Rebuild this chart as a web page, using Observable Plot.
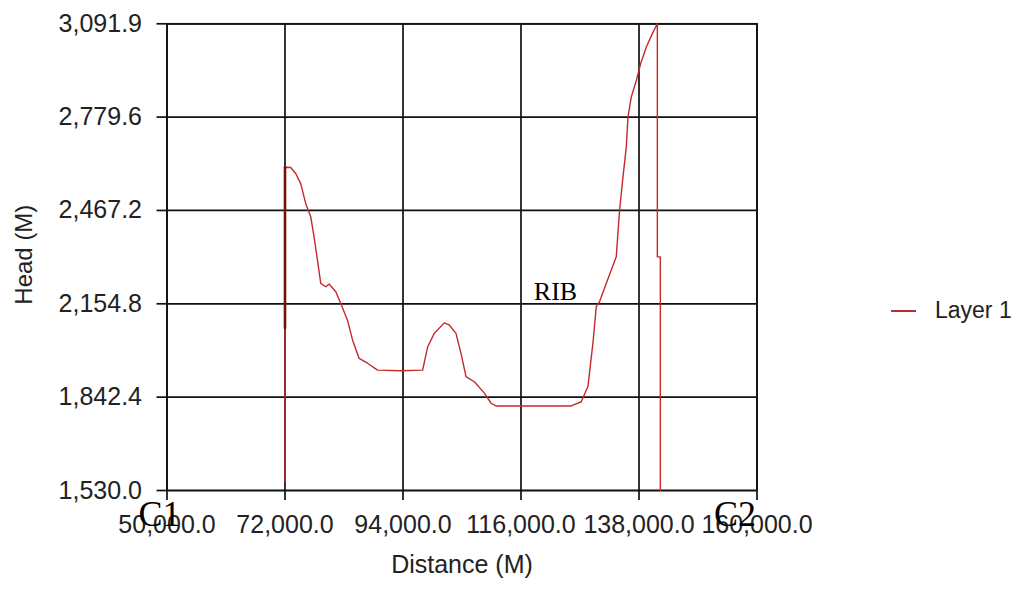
<!DOCTYPE html>
<html>
<head>
<meta charset="utf-8">
<script src="https://cdn.jsdelivr.net/npm/d3@7"></script>
<script src="https://cdn.jsdelivr.net/npm/@observablehq/plot@0.6"></script>
<style>
  html, body { margin: 0; padding: 0; background: #fff; }
  #wrap { position: relative; width: 1018px; height: 590px; overflow: hidden; }
  #legend { position: absolute; left: 891px; top: 297px; font-family: "Liberation Sans", Arial, sans-serif; font-size: 23px; color: #222; display: flex; align-items: center; white-space: nowrap; }
  #legend .sw { width: 25px; height: 0; border-top: 2px solid #c42a2a; margin-right: 19px; }
</style>
</head>
<body>
<div id="wrap"><div id="legend"><span class="sw"></span><span>Layer 1</span></div></div>
<script>
// ---- data ----
const xTicks = [50000, 72000, 94000, 116000, 138000, 160000];
const yTicks = [1530, 1842.4, 2154.8, 2467.2, 2779.6, 3091.9];

const distance = [72000, 72000, 72130, 73060, 74000, 74930, 75870, 76800, 77420, 78050,
  78670, 79600, 80220, 81470, 82400, 83650, 84590, 85820, 87390, 89260,
  93610, 97660, 98600, 99830, 101700, 102630, 103880, 104810, 105750, 107300,
  109170, 110420, 111350, 125360, 127230, 128480, 129410, 130030, 130640, 131890,
  133760, 134380, 135010, 135630, 135950, 136560, 137500, 138300, 139370, 140620,
  141420, 141420, 141980, 141980];
const head = [1560, 2612, 2612, 2611, 2591, 2557, 2490, 2446, 2379, 2301,
  2223, 2212, 2221, 2195, 2156, 2100, 2034, 1972, 1956, 1933,
  1931, 1933, 2011, 2056, 2091, 2084, 2056, 1989, 1911, 1894,
  1856, 1822, 1813, 1813, 1827, 1878, 2023, 2145, 2162, 2223,
  2312, 2468, 2579, 2680, 2780, 2847, 2902, 2958, 3014, 3064,
  3091.9, 2312, 2312, 1530];

// segment that the line retraces (drawn darker in the reference)
const retraceDistance = [72000, 72000];
const retraceHead = [2074, 2612];

// free-text annotations
const noteText = ["C1", "C2", "RIB"];
const noteDistance = [44700, 152000, 118400];
const noteHead = [1412, 1412, 2167];
const noteSize = [36, 36, 26];

const seriesName = "Layer 1";
const xLabel = "Distance (M)";
const yLabel = "Head (M)";

const line = distance.map((d, i) => ({distance: d, head: head[i]}));
const retrace = retraceDistance.map((d, i) => ({distance: d, head: retraceHead[i]}));
const notes = noteText.map((t, i) => ({text: t, distance: noteDistance[i], head: noteHead[i], size: noteSize[i]}));

const fmt = d3.format(",.1f");

const chart = Plot.plot({
  width: 1018,
  height: 590,
  marginLeft: 166.5,
  marginRight: 261.5,
  marginTop: 23.3,
  marginBottom: 100,
  style: {fontFamily: "'Liberation Sans', Arial, sans-serif", fontSize: "25px", color: "#222", background: "transparent", overflow: "visible"},
  x: {domain: [50000, 160000]},
  y: {domain: [1530, 3091.9]},
  marks: [
    Plot.gridX(xTicks, {stroke: "#111", strokeOpacity: 1, strokeWidth: 1.7}),
    Plot.gridY(yTicks, {stroke: "#111", strokeOpacity: 1, strokeWidth: 1.7}),
    Plot.frame({stroke: "#111", strokeWidth: 1.7}),
    Plot.axisX({ticks: xTicks, tickFormat: fmt, tickSize: 10, tickPadding: 15, label: null, stroke: "#111", strokeWidth: 1.7, fill: "#222"}),
    Plot.axisY({ticks: yTicks, tickFormat: fmt, tickSize: 10, tickPadding: 15, label: null, stroke: "#111", strokeWidth: 1.7, fill: "#222"}),
    Plot.line(line, {x: "distance", y: "head", stroke: "#c42a2a", strokeWidth: 1.4, curve: "linear"}),
    Plot.line(retrace, {x: "distance", y: "head", stroke: "#7a0d0d", strokeWidth: 2.6}),
    Plot.text([xLabel], {frameAnchor: "bottom", dy: 82, fontSize: 25, fill: "#222"}),
    Plot.text([yLabel], {frameAnchor: "left", dx: -143, dy: -2.5, rotate: -90, textAnchor: "middle", fontSize: 24, fill: "#222"}),
    Plot.text(notes, {x: "distance", y: "head", text: "text", fontSize: d => d.size, textAnchor: "start", lineAnchor: "bottom", fontFamily: "'Liberation Serif', 'Times New Roman', serif", fill: "#000", clip: false})
  ]
});
document.getElementById("wrap").prepend(chart);
chart.style.position = "absolute";
chart.style.left = "0";
chart.style.top = "0";
</script>
</body>
</html>
